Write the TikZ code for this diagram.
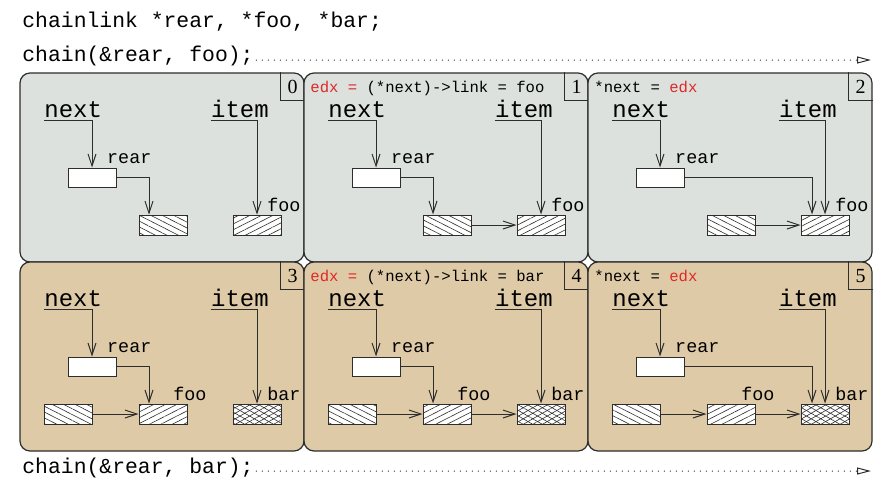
\documentclass[tikz,border=0pt]{standalone}
\usepackage{fontspec}
\setmainfont{Liberation Serif}
\setmonofont{Liberation Mono}
\usetikzlibrary{arrows.meta, patterns.meta}
\definecolor{stage-gray}{RGB}{221,225,221}
\definecolor{stage-tan}{RGB}{222,202,166}
\definecolor{reg-red}{RGB}{222,40,40}
\definecolor{ink}{RGB}{45,45,45}
\tikzset{
	panel/.style={draw=ink,line width=0.6pt,rounded corners=5pt,minimum width=142pt,minimum height=94.5pt,inner sep=0pt},
	gray-panel/.style={fill=stage-gray},
	tan-panel/.style={fill=stage-tan},
	numbox/.style={anchor=north east,minimum width=11.5pt,minimum height=13.8pt,inner sep=0pt,font=\fontsize{10}{10}\selectfont},
	code/.style={anchor=base west,inner sep=0pt,font=\ttfamily\fontsize{10.7}{13}\selectfont},
	var/.style={anchor=base west,inner sep=0pt,font=\ttfamily\fontsize{12}{14}\selectfont},
	note/.style={anchor=base west,inner sep=0pt,font=\ttfamily\fontsize{7.8}{9}\selectfont},
	lbl/.style={anchor=base west,inner sep=0pt,font=\ttfamily\fontsize{9.2}{11}\selectfont},
	cell/.style={draw=ink,fill=white,line width=0.5pt,minimum width=24pt,minimum height=9.5pt,inner sep=0pt},
	box/.style={draw=ink,line width=0.5pt,minimum width=24pt,minimum height=10pt,inner sep=0pt,preaction={fill=white},pattern color=ink},
	first-node/.style={pattern={Lines[angle=-27,distance=2.6pt,line width=0.3pt]}},
	foo-node/.style={pattern={Lines[angle=27,distance=2.6pt,line width=0.3pt]}},
	bar-node/.style={pattern={Lines[angle=30,distance=2.4pt,line width=0.3pt]},postaction={pattern={Lines[angle=-30,distance=2.4pt,line width=0.3pt]},pattern color=ink}},
}
\tikzstyle{ptr} = [draw=ink,line width=0.5pt,-{Straight Barb[length=6pt,width=4pt]}]
\tikzstyle{dotarrow} = [draw=ink,line width=0.5pt,dash pattern=on 0.5pt off 2.5pt,-{Triangle[open,length=7pt,width=3.5pt]}]
\newcommand{\drawstage}[3]{%
	\node[panel,#2] (#1) at (142,94.5) {};
	\node[numbox] (#1-num) at (#1.north east) {#3};
	\draw[draw=ink,line width=0.5pt] (#1-num.north west) |- (#1-num.south east);
	\node[var] (#1-next) at (24,44) {next};
	\node[var] (#1-item) at (190.7,44) {item};
	\node[cell] (#1-cell) at (72,104.5) {};
	\node[lbl] (#1-rear) at ([xshift=7.4pt,yshift=2pt]#1-cell.north) {rear};
	\draw[ptr] ([yshift=-1.85pt]#1-next.base west) -| (#1-cell.north);
}
\begin{document}
\begin{tikzpicture}[x=0.5pt,y=-0.5pt]
	\useasboundingbox (0,0) rectangle (881,477);
	\node[code] (decl) at (22,27) {chainlink *rear, *foo, *bar;};
	\node[code] (call-foo) at (22,61.7) {chain(\&rear, foo);};
	\coordinate (end-foo) at (871,60);
	\draw[dotarrow] ([xshift=1pt,yshift=0.85pt]call-foo.base east) -- (end-foo);

	\begin{scope}[shift={(20,73)}]
		\drawstage{s0}{gray-panel}{0}
		\node[box,first-node] (s0-b) at (143,152) {};
		\node[box,foo-node] (s0-c) at (237,152) {};
		\node[lbl] (s0-foo) at ([xshift=5pt,yshift=1.75pt]s0-c.north) {foo};
		\draw[ptr] (s0-cell.east) -| ([xshift=-7pt]s0-b.north);
		\draw[ptr] ([yshift=-1.85pt]s0-item.base west) -| (s0-c.north);
	\end{scope}

	\begin{scope}[shift={(304,73)}]
		\drawstage{s1}{gray-panel}{1}
		\node[note] (s1-note) at (6,19) {\textcolor{reg-red}{edx =} (*next)->link = foo};
		\node[box,first-node] (s1-b) at (143,152) {};
		\node[box,foo-node] (s1-c) at (237,152) {};
		\node[lbl] (s1-foo) at ([xshift=5pt,yshift=1.75pt]s1-c.north) {foo};
		\draw[ptr] (s1-cell.east) -| ([xshift=-7pt]s1-b.north);
		\draw[ptr] ([yshift=-1.85pt]s1-item.base west) -| (s1-c.north);
		\draw[ptr] (s1-b) -- (s1-c);
	\end{scope}

	\begin{scope}[shift={(588,73)}]
		\drawstage{s2}{gray-panel}{2}
		\node[note] (s2-note) at (6,19) {*next = \textcolor{reg-red}{edx}};
		\node[box,first-node] (s2-b) at (143,152) {};
		\node[box,foo-node] (s2-c) at (237,152) {};
		\node[lbl] (s2-foo) at ([xshift=5pt,yshift=1.75pt]s2-c.north) {foo};
		\draw[ptr] (s2-cell.east) -| ([xshift=-6.5pt]s2-c.north);
		\draw[ptr] ([yshift=-1.85pt]s2-item.base west) -| (s2-c.north);
		\draw[ptr] (s2-b) -- (s2-c);
	\end{scope}

	\begin{scope}[shift={(20,262)}]
		\drawstage{s3}{tan-panel}{3}
		\node[box,first-node] (s3-a) at (48,152) {};
		\node[box,foo-node] (s3-b) at (143,152) {};
		\node[box,bar-node] (s3-c) at (237,152) {};
		\node[lbl] (s3-foo) at ([xshift=5pt,yshift=1.75pt]s3-b.north) {foo};
		\node[lbl] (s3-bar) at ([xshift=5pt,yshift=1.75pt]s3-c.north) {bar};
		\draw[ptr] (s3-cell.east) -| ([xshift=-7pt]s3-b.north);
		\draw[ptr] ([yshift=-1.85pt]s3-item.base west) -| (s3-c.north);
		\draw[ptr] (s3-a) -- (s3-b);
	\end{scope}

	\begin{scope}[shift={(304,262)}]
		\drawstage{s4}{tan-panel}{4}
		\node[note] (s4-note) at (6,19) {\textcolor{reg-red}{edx =} (*next)->link = bar};
		\node[box,first-node] (s4-a) at (48,152) {};
		\node[box,foo-node] (s4-b) at (143,152) {};
		\node[box,bar-node] (s4-c) at (237,152) {};
		\node[lbl] (s4-foo) at ([xshift=5pt,yshift=1.75pt]s4-b.north) {foo};
		\node[lbl] (s4-bar) at ([xshift=5pt,yshift=1.75pt]s4-c.north) {bar};
		\draw[ptr] (s4-cell.east) -| ([xshift=-7pt]s4-b.north);
		\draw[ptr] ([yshift=-1.85pt]s4-item.base west) -| (s4-c.north);
		\draw[ptr] (s4-a) -- (s4-b);
		\draw[ptr] (s4-b) -- (s4-c);
	\end{scope}

	\begin{scope}[shift={(588,262)}]
		\drawstage{s5}{tan-panel}{5}
		\node[note] (s5-note) at (6,19) {*next = \textcolor{reg-red}{edx}};
		\node[box,first-node] (s5-a) at (48,152) {};
		\node[box,foo-node] (s5-b) at (143,152) {};
		\node[box,bar-node] (s5-c) at (237,152) {};
		\node[lbl] (s5-foo) at ([xshift=5pt,yshift=1.75pt]s5-b.north) {foo};
		\node[lbl] (s5-bar) at ([xshift=5pt,yshift=1.75pt]s5-c.north) {bar};
		\draw[ptr] (s5-cell.east) -| ([xshift=-6.5pt]s5-c.north);
		\draw[ptr] ([yshift=-1.85pt]s5-item.base west) -| (s5-c.north);
		\draw[ptr] (s5-a) -- (s5-b);
		\draw[ptr] (s5-b) -- (s5-c);
	\end{scope}

	\node[code] (call-bar) at (22,473.7) {chain(\&rear, bar);};
	\coordinate (end-bar) at (871,471);
	\draw[dotarrow] ([xshift=1pt,yshift=1.35pt]call-bar.base east) -- (end-bar);
\end{tikzpicture}
\end{document}
